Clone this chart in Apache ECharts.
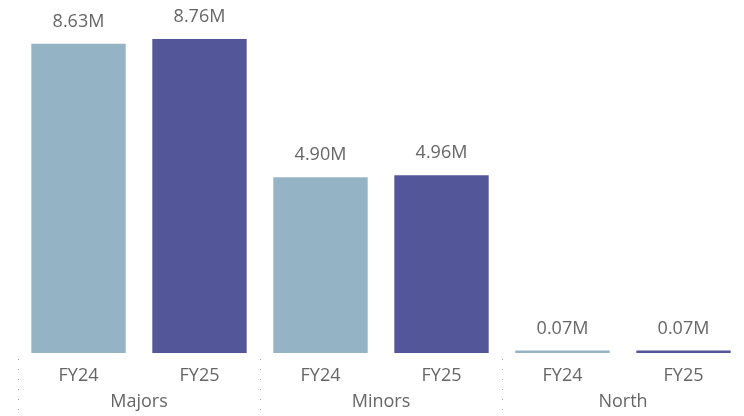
<!DOCTYPE html>
<html>
<head>
<meta charset="utf-8">
<script src="https://cdn.jsdelivr.net/npm/echarts@6/dist/echarts.min.js"></script>
<style>
  html, body { margin: 0; padding: 0; background: #fff; }
  #chart { width: 744px; height: 416px; }
</style>
</head>
<body>
<div id="chart"></div>
<script>
// Sales by region, FY24 vs FY25 (millions)
const groups = ['Majors', 'Minors', 'North'];
const years = ['FY24', 'FY25'];
const fy24 = [8.63, 4.90, 0.07];
const fy25 = [8.76, 4.96, 0.07];

const yearColors = ['#94b4c6', '#53579a'];
const textColor = '#666666';
const fontFamily = '"Open Sans", "Noto Sans", sans-serif';

// Flatten into one category per (group, year) pair
const subCategories = [];
const barData = [];
groups.forEach((g, gi) => {
  [fy24, fy25].forEach((series, yi) => {
    subCategories.push(years[yi]);
    barData.push({ value: series[gi], itemStyle: { color: yearColors[yi] } });
  });
});

const chart = echarts.init(document.getElementById('chart'));
chart.setOption({
  animation: false,
  grid: { left: 18, right: -6, top: 39, bottom: 63, containLabel: false },
  xAxis: [
    {
      type: 'category',
      data: subCategories,
      position: 'bottom',
      axisLine: { show: false },
      axisTick: { show: false },
      axisLabel: { color: textColor, fontSize: 18, fontFamily: fontFamily, margin: 14 }
    },
    {
      type: 'category',
      data: groups,
      position: 'bottom',
      offset: 6,
      axisLine: { show: false },
      axisTick: {
        show: true,
        length: 52,
        lineStyle: { color: '#a8a8a8', width: 1, type: [1, 9] }
      },
      axisLabel: { color: textColor, fontSize: 18, fontFamily: fontFamily, margin: 34 }
    }
  ],
  yAxis: {
    type: 'value',
    min: 0,
    max: 8.76,
    show: false,
    splitLine: { show: false }
  },
  series: [
    {
      type: 'bar',
      xAxisIndex: 0,
      data: barData,
      barWidth: '78%',
      label: {
        show: true,
        position: 'top',
        distance: 13,
        color: textColor,
        fontSize: 18,
        fontFamily: fontFamily,
        formatter: p => p.value.toFixed(2) + 'M'
      }
    }
  ]
});
</script>
</body>
</html>
